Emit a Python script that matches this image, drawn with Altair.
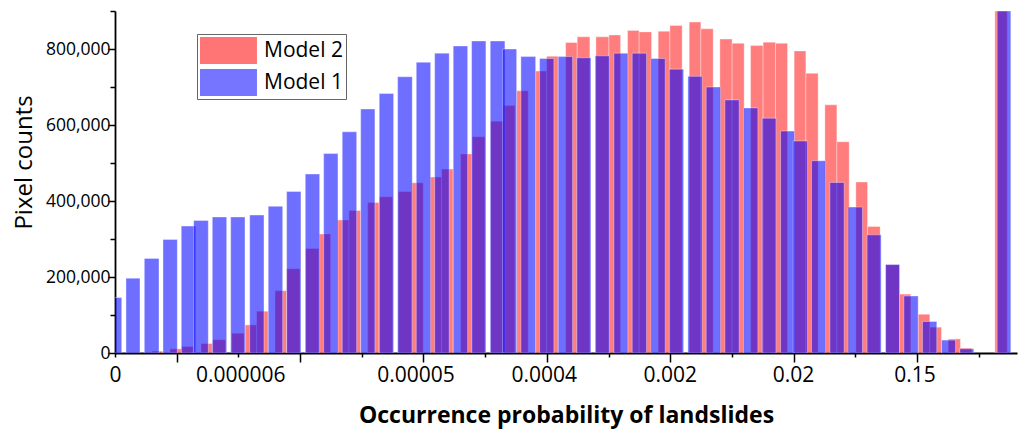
import altair as alt
import pandas as pd

# ---- axis ticks / labels (axis units: one unit per tick) ----
x_ticks = list(range(15))
tick_label_text = ["0", "0.000006", "0.00005", "0.0004", "0.002", "0.02", "0.15"]
tick_label_pos = [0, 2.03, 4.87, 6.95, 8.99, 10.99, 12.96]
y_ticks = list(range(0, 900001, 100000))

# ---- Model 1 (blue) bins: left edge, right edge, pixel count ----
m1_left = [-0.11, 0.178, 0.475, 0.778, 1.074, 1.275, 1.577, 1.875, 2.183, 2.484,
           2.782, 3.084, 3.382, 3.683, 3.982, 4.283, 4.581, 4.883, 5.181, 5.482,
           5.780, 6.082, 6.283, 6.579, 6.882, 7.184, 7.482, 7.783, 8.086, 8.383,
           8.686, 8.983, 9.286, 9.582, 9.885, 10.188, 10.490, 10.788, 10.992, 11.290,
           11.587, 11.883, 12.186, 12.489, 12.786, 13.088, 13.397, 13.693, 14.298]
m1_right = [0.109, 0.405, 0.713, 1.010, 1.308, 1.512, 1.810, 2.107, 2.415, 2.718,
            3.014, 3.317, 3.614, 3.917, 4.213, 4.516, 4.818, 5.116, 5.417, 5.716,
            6.012, 6.320, 6.510, 6.818, 7.114, 7.417, 7.714, 8.016, 8.313, 8.616,
            8.918, 9.216, 9.517, 9.815, 10.117, 10.420, 10.717, 11.014, 11.225, 11.517,
            11.819, 12.116, 12.418, 12.716, 13.018, 13.320, 13.624, 13.920, 14.520]
m1_count = [146000, 197000, 249000, 299000, 334000, 349000, 358000, 358000, 363000, 386000,
            425000, 471000, 525000, 582000, 642000, 683000, 727000, 765000, 789000, 808000,
            821000, 821000, 800000, 780000, 775000, 780000, 777000, 782000, 789000, 789000,
            775000, 747000, 728000, 700000, 666000, 645000, 618000, 584000, 558000, 506000,
            449000, 384000, 311000, 233000, 150000, 83000, 34000, 11000, 900000]

# ---- Model 2 (red) bins ----
m2_left = [0.595, 0.891, 1.081, 1.394, 1.582, 1.891, 2.107, 2.295, 2.593, 2.782,
           3.090, 3.306, 3.602, 3.792, 4.095, 4.283, 4.591, 4.808, 5.105, 5.294,
           5.602, 5.790, 6.088, 6.293, 6.510, 6.818, 6.996, 7.304, 7.492, 7.795,
           8.006, 8.308, 8.496, 8.804, 8.994, 9.307, 9.496, 9.804, 10.003, 10.301,
           10.505, 10.706, 11.008, 11.198, 11.506, 11.701, 12.008, 12.198, 12.495, 12.716,
           13.018, 13.207, 13.504, 13.693, 14.262]
m2_right = [0.773, 1.081, 1.269, 1.582, 1.793, 2.095, 2.295, 2.484, 2.782, 2.998,
            3.306, 3.495, 3.792, 3.982, 4.283, 4.500, 4.808, 4.996, 5.294, 5.482,
            5.790, 5.996, 6.293, 6.483, 6.698, 6.996, 7.184, 7.492, 7.697, 8.006,
            8.195, 8.496, 8.697, 8.994, 9.193, 9.496, 9.696, 10.003, 10.198, 10.505,
            10.706, 10.901, 11.198, 11.397, 11.701, 11.900, 12.198, 12.402, 12.716, 12.899,
            13.207, 13.396, 13.704, 13.888, 14.462]
m2_count = [5000, 11000, 17000, 25000, 35000, 52000, 74000, 110000, 164000, 222000,
            275000, 313000, 350000, 375000, 396000, 411000, 425000, 448000, 463000, 484000,
            524000, 569000, 610000, 651000, 690000, 742000, 781000, 817000, 832000, 832000,
            837000, 849000, 845000, 847000, 862000, 871000, 853000, 826000, 815000, 809000,
            818000, 815000, 795000, 736000, 653000, 556000, 450000, 333000, 232000, 155000,
            102000, 68000, 37000, 13000, 900000]

series_names = ["Model 2", "Model 1"]
series_colors = ["#FF0000", "#0000FF"]

df1 = pd.DataFrame({"left": m1_left, "right": m1_right, "count": m1_count, "model": "Model 1"})
df2 = pd.DataFrame({"left": m2_left, "right": m2_right, "count": m2_count, "model": "Model 2"})

FONT = "Open Sans"

axis_vals = sorted(set(x_ticks) | set(tick_label_pos))
label_expr = ""
for p, t in zip(tick_label_pos, tick_label_text):
    label_expr += f"datum.value == {p} ? '{t}' : "
label_expr += "''"

x_axis = alt.Axis(
    values=axis_vals,
    labelExpr=label_expr,
    title="Occurrence probability of landslides",
    tickSize={"condition": {"test": "datum.value % 2 == 1", "value": 9}, "value": 4},
    tickOpacity={"condition": {"test": "datum.value % 1 != 0", "value": 0}, "value": 1},
    tickColor="black", tickWidth=1.5,
    domainColor="black", domainWidth=1.8,
    labelOverlap=False, labelFlush=False,
    labelFont=FONT, labelFontSize=21, labelColor="black", labelPadding=7,
    titleFont=FONT, titleFontSize=23, titleFontWeight="bold", titleColor="black",
    titlePadding=14, grid=False,
)

y_axis = alt.Axis(
    values=y_ticks,
    labelExpr="datum.value % 200000 == 0 ? format(datum.value, ',') : ''",
    title="Pixel counts",
    tickSize={"condition": {"test": "datum.value % 200000 == 0", "value": 7}, "value": 5},
    tickColor="black", tickWidth=1.5,
    domainColor="black", domainWidth=1.8,
    labelFont=FONT, labelFontSize=17.5, labelColor="black", labelPadding=-2,
    labelOverlap=False, labelFlush=False,
    titleFont=FONT, titleFontSize=24, titleFontWeight="normal", titleColor="black",
    titleX=-91, titleY=151, titleAlign="center", titleBaseline="middle",
    grid=False,
)

xscale = alt.Scale(domain=[0, 14.62], nice=False, zero=False)
yscale = alt.Scale(domain=[0, 900000], nice=False)

legend = alt.Legend(
    title=None, orient="none", legendX=82, legendY=23,
    symbolType="M-1,-1H3.22V1H-1Z", symbolSize=729, symbolOpacity=0.54,
    symbolStrokeWidth=0, labelOffset=37,
    labelFont=FONT, labelFontSize=21, labelColor="black",
    padding=3, rowPadding=5, strokeColor="#666666", fillColor="white",
)
color = alt.Color("model:N", scale=alt.Scale(domain=series_names, range=series_colors), legend=legend)

def bars(df, op):
    return alt.Chart(df).mark_bar(
        fillOpacity=op, stroke="white", strokeOpacity=0.45, strokeWidth=0.8, clip=True
    ).encode(
        x=alt.X("left:Q", scale=xscale, axis=x_axis),
        x2="right:Q",
        y=alt.Y("count:Q", scale=yscale, axis=y_axis),
        y2=alt.datum(0),
        color=color,
    )

chart = alt.layer(bars(df2, 0.51), bars(df1, 0.565)).properties(
    width=902, height=342,
    padding={"left": 115, "top": 11, "right": 2, "bottom": 79},
    autosize=alt.AutoSizeParams(type="none"),
    background="white",
).configure_view(stroke=None)

chart.save("out.html", embed_options={"renderer": "svg", "actions": False})
